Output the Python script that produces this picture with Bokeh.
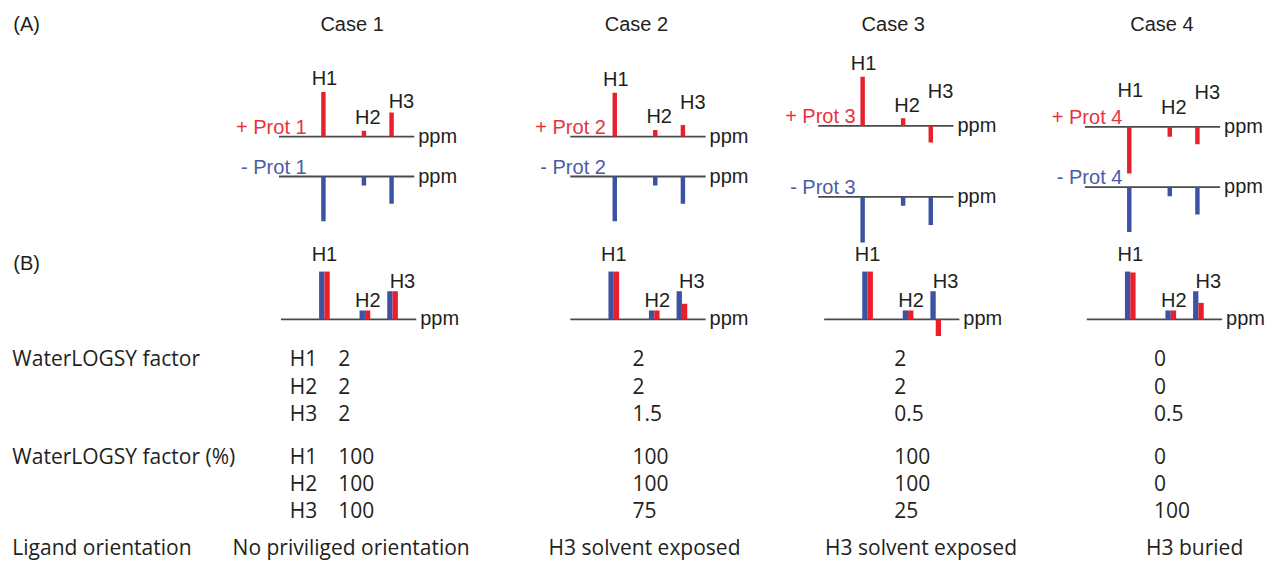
from bokeh.plotting import figure
from bokeh.models import Range1d
from bokeh.core.properties import value
from bokeh.embed import file_html
from bokeh.resources import INLINE

# ---------------- data ----------------
cases = ["Case 1", "Case 2", "Case 3", "Case 4"]
peaks = ["H1", "H2", "H3"]
plus_labels = ["+ Prot 1", "+ Prot 2", "+ Prot 3", "+ Prot 4"]
minus_labels = ["- Prot 1", "- Prot 2", "- Prot 3", "- Prot 4"]

# (A) relative peak intensities (H1, H2, H3), positive = up
plus_prot = [[1.00, 0.13, 0.54],
             [0.98, 0.15, 0.26],
             [1.10, 0.17, -0.37],
             [-1.04, -0.22, -0.39]]
minus_prot = [[-1.00, -0.20, -0.61],
              [-1.00, -0.20, -0.61],
              [-1.02, -0.20, -0.63],
              [-1.00, -0.20, -0.61]]

# (B) corrected spectra: reference (blue) and + protein (red)
ref_B = [[1.07, 0.20, 0.63],
         [1.07, 0.20, 0.63],
         [1.07, 0.20, 0.63],
         [1.07, 0.20, 0.63]]
plus_B = [[1.07, 0.20, 0.63],
          [1.07, 0.20, 0.35],
          [1.07, 0.20, -0.37],
          [1.05, 0.20, 0.37]]

factor = {"H1": ["2", "2", "2", "0"],
          "H2": ["2", "2", "2", "0"],
          "H3": ["2", "1.5", "0.5", "0.5"]}
factor_pct = {"H1": ["100", "100", "100", "0"],
              "H2": ["100", "100", "100", "0"],
              "H3": ["100", "75", "25", "100"]}
orientation = ["No priviliged orientation", "H3 solvent exposed",
               "H3 solvent exposed", "H3 buried"]

# ---------------- layout (pixels of the 1286x578 picture) ----------------
W, H = 1270, 562
SCALE = 46
SPAN = 137
PEAK_OFF = [45, 86, 114]
A_x0 = [282, 577, 828, 1098]
A_red_y = [140, 140, 129, 130]
A_blue_y = [181, 181, 202, 192]
A_lab_right = [310, 613, 866, 1136]
B_x0 = [284, 577, 834, 1100]
B_y = 328
header_x = [356, 644, 904, 1176]
col_x = [342, 640, 905, 1168]
orient_x = [235, 555, 835, 1160]

RED = "#E8202C"
BLUE = "#3C52A3"
RED_T = "#E8333C"
BLUE_T = "#4A5CA8"
LINE = "#4a4a4a"
TXT = "#231F20"

p = figure(width=W, height=H, output_backend="svg", toolbar_location=None,
           x_range=Range1d(0, 1286), y_range=Range1d(578, 0),
           min_border=0, outline_line_color=None)
p.axis.visible = False
p.grid.visible = False
p.background_fill_color = "white"
p.border_fill_color = "white"

ARIAL = value("Liberation Sans")
OPEN = value("Open Sans")

def txt(xs, ys, ts, size, color, font, align="left"):
    p.text(x=xs, y=ys, text=ts, text_font=font, text_font_size=value(size),
           text_color=color, text_align=align, text_baseline="middle")

# headers
txt([13], [24], ["(A)"], "20px", TXT, ARIAL)
txt([13], [270], ["(B)"], "20px", TXT, ARIAL)
txt(header_x, [24] * 4, cases, "20px", TXT, ARIAL, align="center")

# baselines
seg_x0, seg_x1, seg_y = [], [], []
for i in range(4):
    for y in (A_red_y[i], A_blue_y[i]):
        seg_x0.append(A_x0[i]); seg_x1.append(A_x0[i] + SPAN); seg_y.append(y)
    seg_x0.append(B_x0[i]); seg_x1.append(B_x0[i] + SPAN); seg_y.append(B_y)
p.segment(x0=seg_x0, y0=seg_y, x1=seg_x1, y1=seg_y, line_color=LINE, line_width=1.8)
txt([x + 4 for x in seg_x1], [y - 1 for y in seg_y], ["ppm"] * len(seg_y), "20px", TXT, ARIAL)

# (A) bars
bx, btop, bbot, bcol = [], [], [], []
lab_x, lab_y, lab_t = [], [], []
FLOOR = [24, 6, 24]
GAP = [7, 7, 5]
LOFF = [1, 4, 10]
for i in range(4):
    for j in range(3):
        x = A_x0[i] + PEAK_OFF[j]
        hr = plus_prot[i][j] * SCALE
        bx.append(x); bbot.append(A_red_y[i]); btop.append(A_red_y[i] - hr); bcol.append(RED)
        hb = minus_prot[i][j] * SCALE
        bx.append(x); bbot.append(A_blue_y[i]); btop.append(A_blue_y[i] - hb); bcol.append(BLUE)
        lab_x.append(x + LOFF[j])
        lab_y.append(A_red_y[i] - max(hr, FLOOR[j]) - GAP[j] - 7)
        lab_t.append(peaks[j])
p.vbar(x=bx, top=btop, bottom=bbot, width=4.5, fill_color=bcol, line_color=None)

txt(A_lab_right, [y - 10 for y in A_red_y], plus_labels, "20px", RED_T, ARIAL, align="right")
txt(A_lab_right, [y - 10 for y in A_blue_y], minus_labels, "20px", BLUE_T, ARIAL, align="right")

# (B) bars
cx, ctop, cbot, ccol = [], [], [], []
BGAP = [11, 4, 4]
BLOFF = [0, 3, 10]
for i in range(4):
    for j in range(3):
        x = B_x0[i] + PEAK_OFF[j] - 1
        hb = ref_B[i][j] * SCALE
        hr = plus_B[i][j] * SCALE
        cx.append(x - 2.7); cbot.append(B_y); ctop.append(B_y - hb); ccol.append(BLUE)
        cx.append(x + 2.7); cbot.append(B_y); ctop.append(B_y - hr); ccol.append(RED)
        lab_x.append(x + BLOFF[j])
        lab_y.append(B_y - max(hb, hr) - BGAP[j] - 7)
        lab_t.append(peaks[j])
p.vbar(x=cx, top=ctop, bottom=cbot, width=5.4, fill_color=ccol, line_color=None)

txt(lab_x, lab_y, lab_t, "20px", TXT, ARIAL, align="center")

# table
ROWS1 = [368, 396, 424]
ROWS2 = [468, 496, 524]
txt([12], [ROWS1[0]], ["WaterLOGSY factor"], "21px", TXT, OPEN)
txt([12], [ROWS2[0]], ["WaterLOGSY factor (%)"], "21px", TXT, OPEN)
txt([12], [562], ["Ligand orientation"], "21px", TXT, OPEN)
tx, ty, tt = [], [], []
for j, h in enumerate(peaks):
    tx += [293, 293]; ty += [ROWS1[j], ROWS2[j]]; tt += [h, h]
    for i in range(4):
        tx.append(col_x[i]); ty.append(ROWS1[j]); tt.append(factor[h][i])
        tx.append(col_x[i]); ty.append(ROWS2[j]); tt.append(factor_pct[h][i])
txt(tx, ty, tt, "21px", TXT, OPEN)
txt(orient_x, [562] * 4, orientation, "21px", TXT, OPEN)

open("out.html", "w").write(file_html(p, INLINE))
